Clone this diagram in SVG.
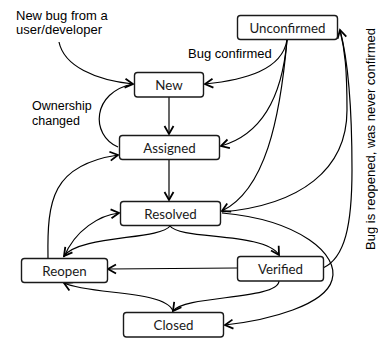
<svg xmlns="http://www.w3.org/2000/svg" width="378" height="341" viewBox="0 0 378 341">
<defs>
<marker id="arr" markerUnits="userSpaceOnUse" markerWidth="14" markerHeight="14" viewBox="-10 -7 12 14" refX="0" refY="0" orient="auto">
<path d="M-8,-4.5 L0,0 L-8,4.5" fill="none" stroke="#000" stroke-width="1.8" stroke-linejoin="miter"/>
</marker>
</defs>
<style>
.box{fill:#fff;stroke:#1a1a1a;stroke-width:1.4}
.bl{font-family:Lato,"Noto Sans",sans-serif;font-size:13.3px;fill:#1a1a1a;text-anchor:middle}
.lbl{font-family:"Liberation Sans",Arial,sans-serif;font-size:13px;fill:#000}
.c{fill:none;stroke:#000;stroke-width:1.2}
.a{marker-end:url(#arr)}
</style>
<rect width="378" height="341" fill="#fff"/>
<g id="connectors">
<path class="c a" d="M59,42 C64,66 95,80 133,84"/>
<path class="c" d="M118,147 C90,135 92,92 133,84"/>
<path class="c a" d="M169,97 L169,134"/>
<path class="c a" d="M169,159 L169,200"/>
<path class="c a" d="M287,40 C282,70 245,80 205,84"/>
<path class="c a" d="M287,40 C282,100 260,135 221,146"/>
<path class="c a" d="M287,40 C280,120 265,190 222,211"/>
<path class="c a" d="M222,212 C300,205 347,170 347,110 C347,70 345,50 340,30"/>
<path class="c" d="M323,268 C345,258 352,225 352,170 C352,110 348,60 340,30"/>
<path class="c a" d="M222,213 C300,220 340,255 332,280 C325,305 270,320 225,325"/>
<path class="c a" d="M170,226 C160,240 80,235 64,256"/>
<path class="c a" d="M64,257 C75,230 100,215 119,213"/>
<path class="c a" d="M170,226 C180,240 265,232 279,255"/>
<path class="c a" d="M237,268 L108,269"/>
<path class="c a" d="M279,281 C278,300 185,295 173,311"/>
<path class="c a" d="M173,311 C165,290 90,295 64,283"/>
<path class="c a" d="M48,258 C47,200 52,165 118,155"/>
</g>
<g id="unconfirmed"><rect class="box" x="237.5" y="15.5" width="100" height="24" rx="3"/><text class="bl" x="287.5" y="32.5">Unconfirmed</text></g>
<g id="new"><rect class="box" x="134.5" y="72.5" width="69" height="24.5" rx="3"/><text class="bl" x="169" y="89.5">New</text></g>
<g id="assigned"><rect class="box" x="119.5" y="135.5" width="100" height="24" rx="3"/><text class="bl" x="169.5" y="152.5">Assigned</text></g>
<g id="resolved"><rect class="box" x="120.5" y="201.5" width="100" height="24" rx="3"/><text class="bl" x="170.5" y="218.5">Resolved</text></g>
<g id="reopen"><rect class="box" x="21.5" y="258.5" width="86" height="24" rx="3"/><text class="bl" x="64.5" y="275.5">Reopen</text></g>
<g id="verified"><rect class="box" x="237.5" y="256.5" width="86" height="24.5" rx="3"/><text class="bl" x="280.5" y="273.5">Verified</text></g>
<g id="closed"><rect class="box" x="123.5" y="312.5" width="100" height="24.5" rx="3"/><text class="bl" x="173.5" y="329.5">Closed</text></g>
<g id="labels">
<text class="lbl" x="16" y="20">New bug from a</text>
<text class="lbl" x="16" y="34">user/developer</text>
<text class="lbl" x="32" y="110" style="font-size:12.5px">Ownership</text>
<text class="lbl" x="32" y="125" style="font-size:12.5px">changed</text>
<text class="lbl" x="188" y="58">Bug confirmed</text>
<text class="lbl" text-anchor="middle" transform="translate(375,139) rotate(-90)">Bug is reopened, was never confirmed</text>
</g>
</svg>
